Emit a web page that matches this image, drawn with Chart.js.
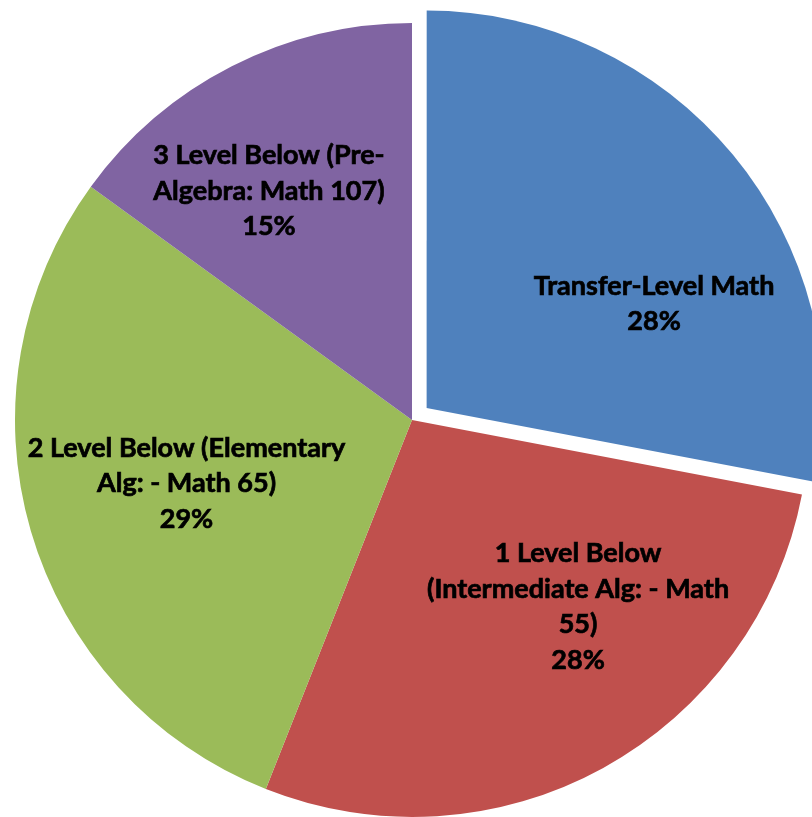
<!DOCTYPE html>
<html>
<head>
<meta charset="utf-8">
<script src="https://cdn.jsdelivr.net/npm/chart.js@4/dist/chart.umd.min.js"></script>
<style>
  html, body { margin: 0; padding: 0; background: #ffffff; overflow: hidden; }
  #wrap { position: absolute; left: 0; top: 0; width: 824px; height: 840px; }
</style>
</head>
<body>
<div id="wrap"><canvas id="mathPie"></canvas></div>
<script>
  var categories = [
    ['Transfer-Level Math'],
    ['1 Level Below', '(Intermediate Alg: - Math', '55)'],
    ['2 Level Below (Elementary', 'Alg: - Math 65)'],
    ['3 Level Below (Pre-', 'Algebra: Math 107)']
  ];
  var shares = [28, 28, 29, 15];
  var sliceColors = ['#4F81BD', '#C0504D', '#9BBB59', '#8064A2'];

  // label placement: shift from slice mid-angle (deg) and distance as share of radius
  var labelSpots = [
    { turn: 15, dist: 0.63 },
    { turn: -12.8, dist: 0.63 },
    { turn: 0.5, dist: 0.59 },
    { turn: -5, dist: 0.68 }
  ];

  // Chart.js v4 draws an arc offset at a quarter of the option value
  var explodePx = 19;

  var sliceLabels = {
    id: 'sliceLabels',
    afterDatasetsDraw: function (chart) {
      var ctx = chart.ctx;
      var meta = chart.getDatasetMeta(0);
      var data = chart.data.datasets[0].data;
      var total = data.reduce(function (a, b) { return a + b; }, 0);
      ctx.save();
      ctx.font = 'bold 27px Lato';
      ctx.fillStyle = '#000000';
      ctx.strokeStyle = '#000000';
      ctx.lineWidth = 0.7;
      ctx.textAlign = 'center';
      ctx.textBaseline = 'middle';
      meta.data.forEach(function (arc, i) {
        var mid = (arc.startAngle + arc.endAngle) / 2;
        var off = i === 0 ? explodePx : 0;
        var cx = arc.x + Math.cos(mid) * off;
        var cy = arc.y + Math.sin(mid) * off;
        var a = mid + labelSpots[i].turn * Math.PI / 180;
        var r = arc.outerRadius * labelSpots[i].dist;
        var x = cx + Math.cos(a) * r;
        var y = cy + Math.sin(a) * r;
        var lines = categories[i].concat([Math.round(data[i] / total * 100) + '%']);
        var lh = 35.5;
        var top = y - (lines.length - 1) * lh / 2;
        lines.forEach(function (t, k) {
          ctx.fillText(t, x, top + k * lh);
          ctx.strokeText(t, x, top + k * lh);
        });
      });
      ctx.restore();
    }
  };

  new Chart(document.getElementById('mathPie'), {
    type: 'pie',
    data: {
      labels: categories,
      datasets: [{
        data: shares,
        backgroundColor: sliceColors,
        borderWidth: 0,
        offset: [explodePx * 4, 0, 0, 0]
      }]
    },
    options: {
      responsive: true,
      maintainAspectRatio: false,
      animation: false,
      radius: 397,
      layout: { padding: 0 },
      plugins: {
        legend: { display: false },
        tooltip: { enabled: false }
      }
    },
    plugins: [sliceLabels]
  });
</script>
</body>
</html>
